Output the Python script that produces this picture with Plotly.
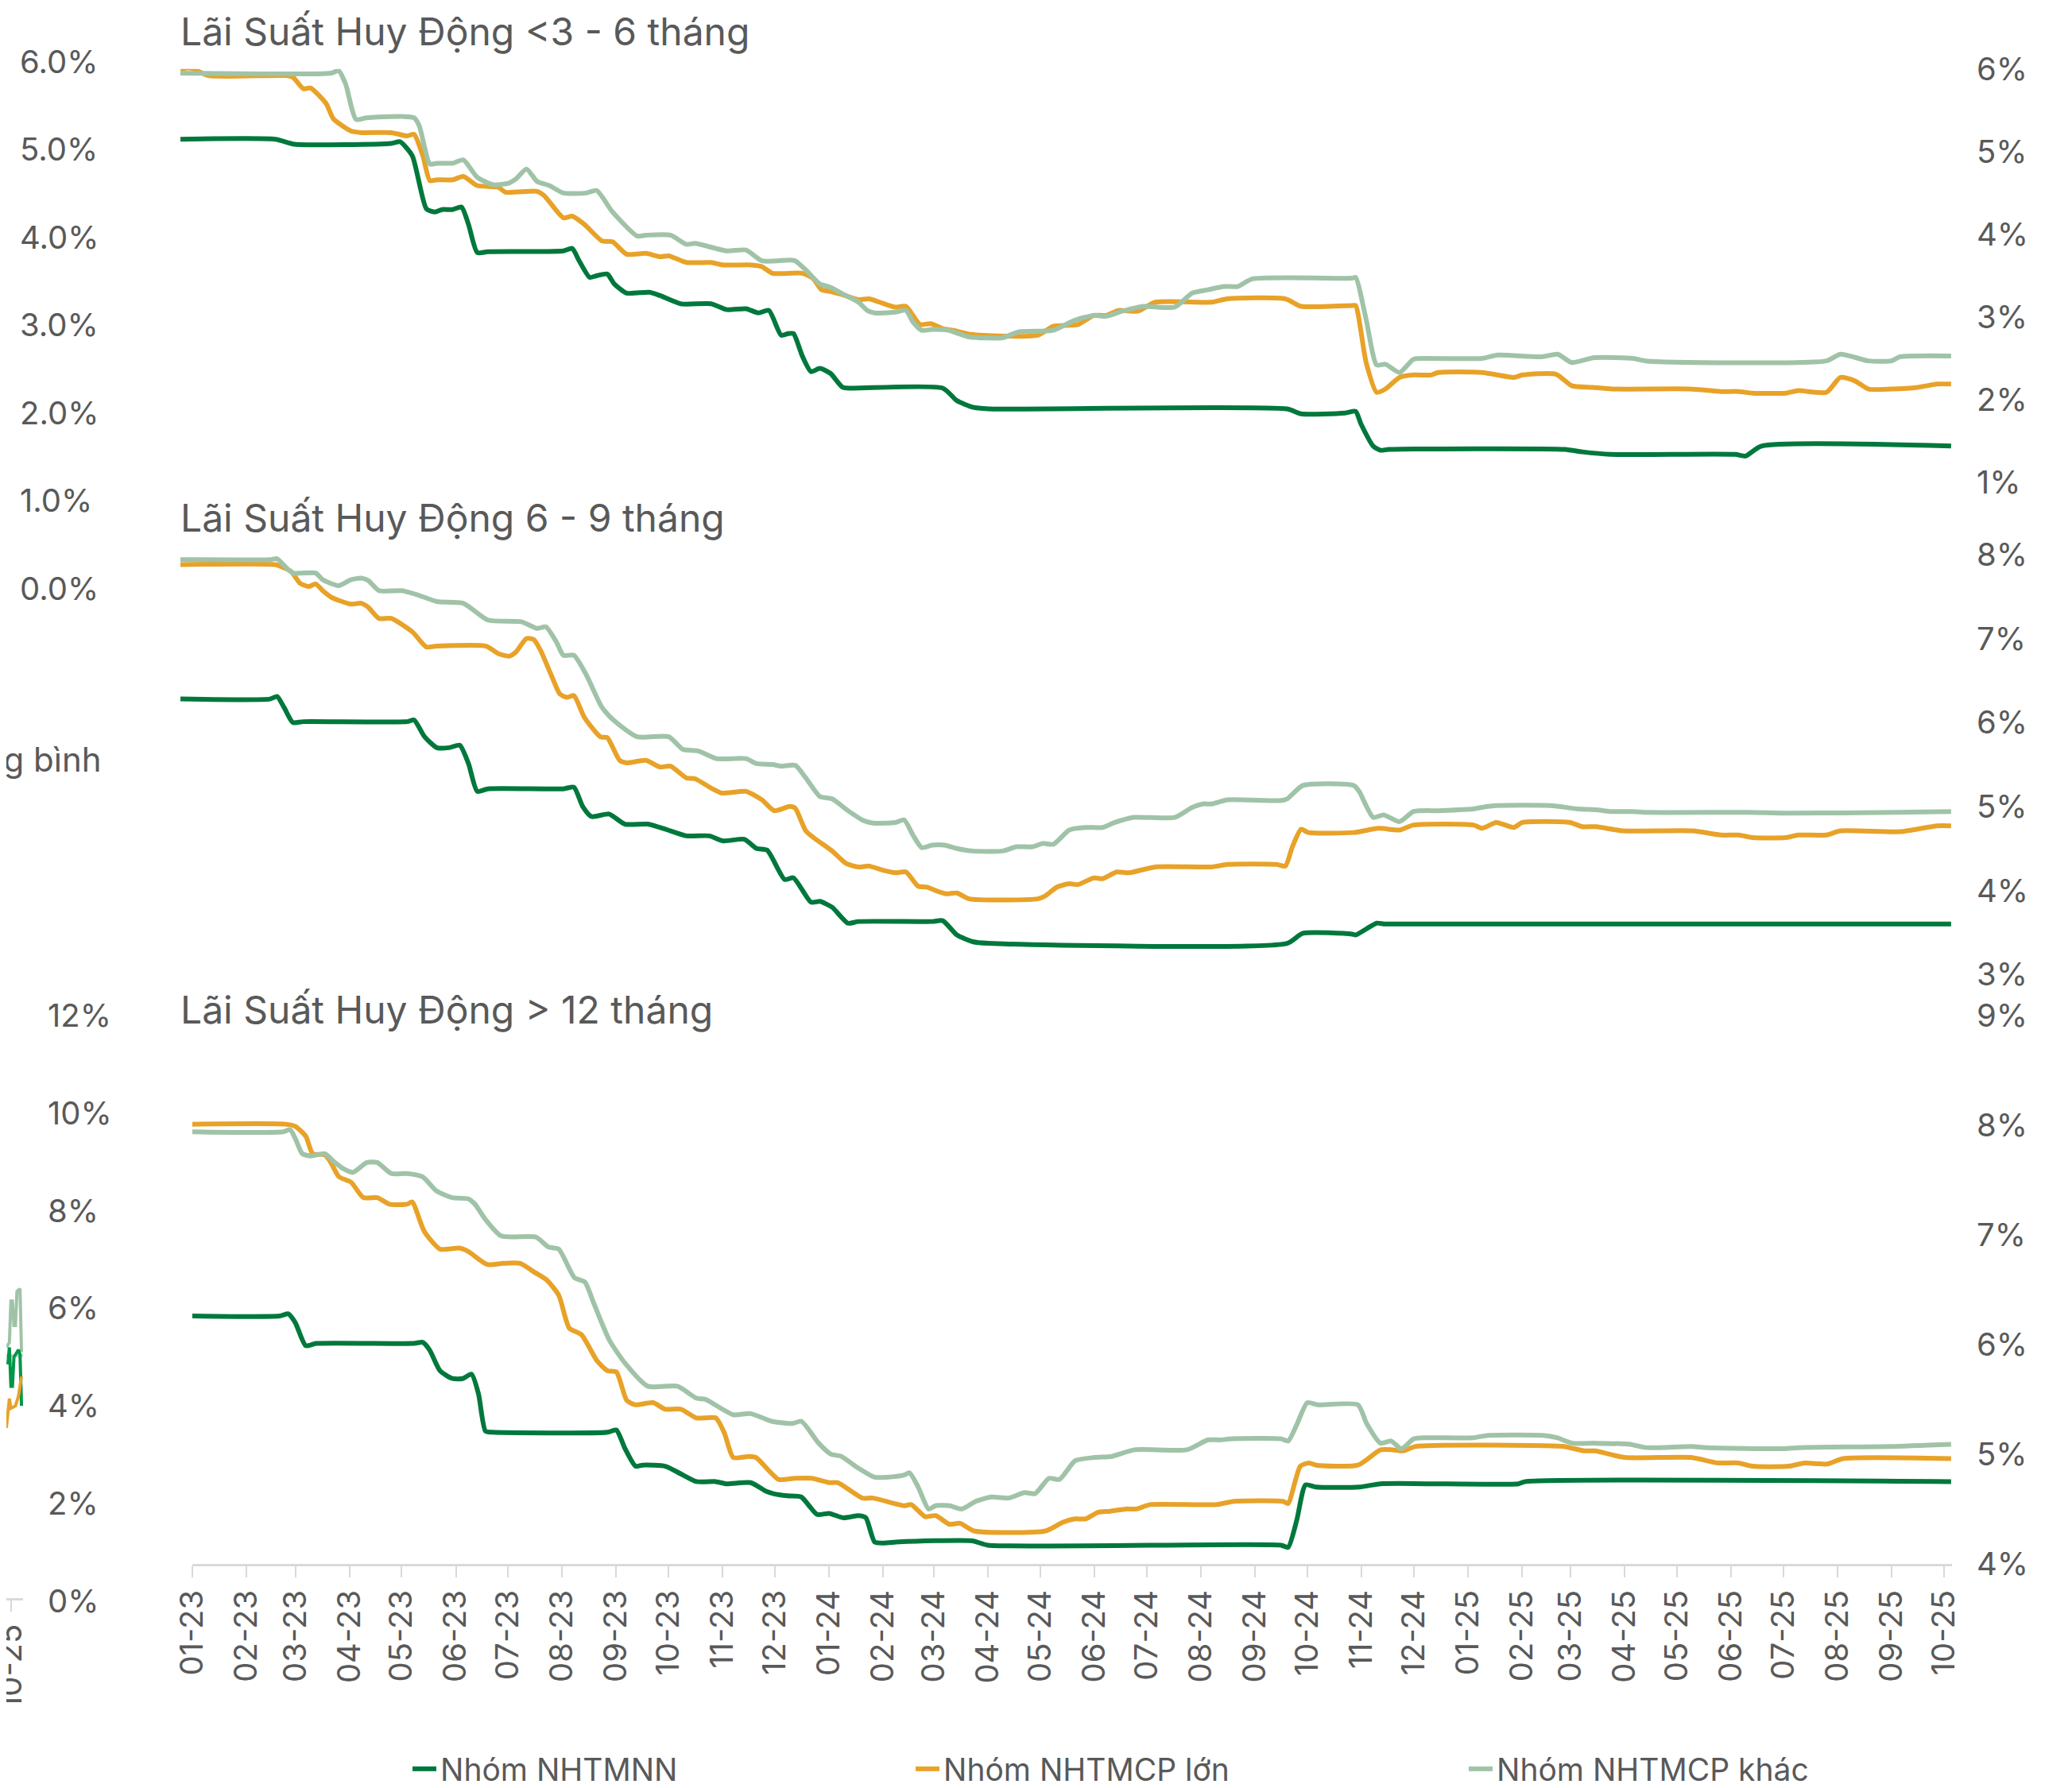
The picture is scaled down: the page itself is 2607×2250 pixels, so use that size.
import plotly.graph_objects as go

W, H = 2607, 2250

# ---------------- data (date, rate %) ----------------
# Panel 1: Lãi Suất Huy Động <3 - 6 tháng
p1_nhtmnn = [("2023-01-01",5.15),("2023-02-24",5.15),("2023-03-07",5.09),("2023-05-01",5.10),("2023-05-06",5.12),("2023-05-13",4.95),("2023-05-21",4.31),("2023-05-26",4.27),("2023-05-30",4.30),("2023-06-05",4.30),("2023-06-10",4.33),("2023-06-14",4.12),("2023-06-19",3.78),("2023-06-25",3.79),("2023-08-07",3.80),("2023-08-12",3.83),("2023-08-16",3.68),("2023-08-22",3.48),("2023-08-26",3.50),("2023-09-01",3.52),("2023-09-05",3.40),("2023-09-12",3.29),("2023-09-25",3.30),("2023-10-01",3.26),("2023-10-13",3.16),("2023-10-30",3.16),("2023-11-08",3.09),("2023-11-19",3.10),("2023-11-26",3.05),("2023-12-02",3.08),("2023-12-09",2.78),("2023-12-13",2.80),("2023-12-16",2.80),("2023-12-21",2.53),("2023-12-26",2.34),("2023-12-31",2.38),("2024-01-06",2.32),("2024-01-13",2.15),("2024-01-18",2.14),("2024-03-10",2.14),("2024-03-18",1.99),("2024-03-27",1.91),("2024-04-05",1.89),("2024-09-22",1.89),("2024-09-30",1.83),("2024-10-25",1.84),("2024-10-31",1.86),("2024-11-03",1.71),("2024-11-10",1.44),("2024-11-14",1.39),("2024-11-19",1.40),("2025-02-27",1.40),("2025-03-09",1.37),("2025-03-25",1.34),("2025-06-04",1.34),("2025-06-10",1.32),("2025-06-19",1.44),("2025-10-05",1.44)]
p1_lon = [("2023-01-01",6.00),("2023-01-07",6.01),("2023-01-17",5.92),("2023-03-02",5.92),("2023-03-06",5.90),("2023-03-12",5.76),("2023-03-16",5.77),("2023-03-25",5.58),("2023-03-29",5.40),("2023-04-08",5.25),("2023-04-14",5.23),("2023-05-01",5.23),("2023-05-10",5.19),("2023-05-14",5.21),("2023-05-19",4.95),("2023-05-23",4.65),("2023-05-27",4.66),("2023-06-05",4.66),("2023-06-11",4.70),("2023-06-19",4.59),("2023-07-01",4.57),("2023-07-05",4.51),("2023-07-23",4.52),("2023-07-27",4.47),("2023-08-07",4.20),("2023-08-12",4.22),("2023-08-19",4.12),("2023-08-29",3.92),("2023-09-04",3.91),("2023-09-12",3.76),("2023-09-23",3.77),("2023-10-01",3.73),("2023-10-06",3.74),("2023-10-16",3.66),("2023-10-30",3.66),("2023-11-06",3.63),("2023-11-22",3.63),("2023-11-28",3.61),("2023-12-04",3.53),("2023-12-21",3.53),("2023-12-27",3.47),("2024-01-01",3.33),("2024-01-06",3.31),("2024-01-13",3.27),("2024-01-22",3.21),("2024-01-28",3.22),("2024-02-03",3.18),("2024-02-12",3.12),("2024-02-18",3.13),("2024-02-26",2.91),("2024-03-03",2.92),("2024-03-10",2.86),("2024-03-16",2.84),("2024-03-26",2.79),("2024-05-03",2.78),("2024-05-12",2.89),("2024-05-26",2.91),("2024-06-04",3.02),("2024-06-11",3.02),("2024-06-18",3.08),("2024-06-29",3.07),("2024-07-09",3.18),("2024-08-10",3.18),("2024-08-19",3.22),("2024-09-21",3.22),("2024-09-30",3.13),("2024-10-29",3.14),("2024-10-31",3.14),("2024-11-06",2.45),("2024-11-12",2.09),("2024-11-17",2.13),("2024-11-25",2.27),("2024-12-03",2.30),("2024-12-13",2.30),("2024-12-17",2.33),("2025-01-11",2.33),("2025-01-29",2.27),("2025-02-03",2.30),("2025-02-22",2.31),("2025-03-03",2.17),("2025-03-15",2.15),("2025-03-26",2.13),("2025-05-09",2.13),("2025-05-27",2.10),("2025-06-06",2.10),("2025-06-14",2.08),("2025-07-03",2.08),("2025-07-10",2.11),("2025-07-26",2.09),("2025-08-03",2.27),("2025-08-11",2.23),("2025-08-19",2.13),("2025-09-01",2.13),("2025-09-16",2.15),("2025-09-27",2.19),("2025-10-05",2.19)]
p1_khac = [("2023-01-01",5.95),("2023-03-28",5.95),("2023-04-01",5.98),("2023-04-05",5.82),("2023-04-11",5.39),("2023-04-17",5.41),("2023-05-14",5.41),("2023-05-17",5.31),("2023-05-23",4.85),("2023-05-27",4.86),("2023-06-05",4.86),("2023-06-11",4.90),("2023-06-19",4.69),("2023-06-28",4.60),("2023-07-07",4.62),("2023-07-11",4.67),("2023-07-17",4.79),("2023-07-23",4.64),("2023-07-30",4.59),("2023-08-07",4.50),("2023-08-20",4.50),("2023-08-26",4.53),("2023-09-04",4.27),("2023-09-18",3.98),("2023-09-23",3.99),("2023-10-07",3.99),("2023-10-16",3.88),("2023-10-21",3.89),("2023-11-08",3.80),("2023-11-19",3.81),("2023-11-28",3.68),("2023-12-14",3.69),("2023-12-17",3.68),("2023-12-23",3.57),("2023-12-31",3.40),("2024-01-06",3.36),("2024-01-13",3.28),("2024-01-22",3.18),("2024-01-27",3.08),("2024-01-31",3.05),("2024-02-12",3.06),("2024-02-18",3.08),("2024-02-22",2.94),("2024-02-27",2.84),("2024-03-04",2.85),("2024-03-13",2.84),("2024-03-25",2.76),("2024-04-13",2.75),("2024-04-22",2.82),("2024-05-05",2.83),("2024-05-12",2.84),("2024-05-24",2.96),("2024-06-04",3.02),("2024-06-11",3.01),("2024-06-20",3.07),("2024-07-02",3.13),("2024-07-20",3.12),("2024-07-30",3.29),("2024-08-08",3.33),("2024-08-17",3.37),("2024-08-25",3.37),("2024-09-02",3.46),("2024-10-29",3.47),("2024-10-31",3.48),("2024-11-06",2.97),("2024-11-12",2.42),("2024-11-17",2.43),("2024-11-25",2.33),("2024-12-03",2.49),("2024-12-10",2.50),("2025-01-11",2.50),("2025-01-20",2.54),("2025-02-14",2.52),("2025-02-23",2.55),("2025-03-03",2.45),("2025-03-16",2.51),("2025-04-07",2.50),("2025-04-14",2.47),("2025-07-26",2.47),("2025-08-03",2.55),("2025-08-19",2.47),("2025-09-01",2.47),("2025-09-06",2.52),("2025-10-05",2.53)]

# Panel 2: Lãi Suất Huy Động 6 - 9 tháng
p2_nhtmnn = [("2023-01-01",6.28),("2023-02-21",6.28),("2023-02-25",6.31),("2023-03-01",6.18),("2023-03-06",6.00),("2023-03-12",6.01),("2023-05-10",6.01),("2023-05-14",6.03),("2023-05-20",5.83),("2023-05-27",5.70),("2023-06-03",5.70),("2023-06-09",5.73),("2023-06-14",5.51),("2023-06-19",5.18),("2023-06-25",5.21),("2023-08-07",5.21),("2023-08-13",5.23),("2023-08-18",5.00),("2023-08-23",4.88),("2023-09-02",4.91),("2023-09-11",4.79),("2023-09-24",4.79),("2023-10-04",4.73),("2023-10-16",4.65),("2023-10-29",4.65),("2023-11-06",4.59),("2023-11-18",4.61),("2023-11-25",4.50),("2023-12-01",4.48),("2023-12-11",4.13),("2023-12-16",4.15),("2023-12-26",3.86),("2023-12-31",3.87),("2024-01-07",3.80),("2024-01-16",3.61),("2024-01-22",3.63),("2024-03-04",3.63),("2024-03-10",3.64),("2024-03-18",3.47),("2024-03-27",3.39),("2024-04-05",3.37),("2024-09-22",3.37),("2024-10-01",3.49),("2024-10-29",3.48),("2024-10-31",3.47),("2024-11-12",3.61),("2024-11-17",3.60),("2025-10-05",3.60)]
p2_lon = [("2023-01-01",7.88),("2023-02-24",7.88),("2023-02-28",7.85),("2023-03-05",7.80),("2023-03-10",7.66),("2023-03-15",7.62),("2023-03-19",7.65),("2023-03-23",7.57),("2023-03-28",7.49),("2023-04-08",7.41),("2023-04-14",7.42),("2023-04-18",7.37),("2023-04-24",7.24),("2023-05-01",7.24),("2023-05-13",7.08),("2023-05-21",6.90),("2023-05-27",6.91),("2023-06-24",6.91),("2023-07-01",6.82),("2023-07-07",6.79),("2023-07-11",6.84),("2023-07-17",7.00),("2023-07-21",6.99),("2023-07-25",6.86),("2023-07-31",6.57),("2023-08-05",6.34),("2023-08-09",6.30),("2023-08-13",6.32),("2023-08-19",6.06),("2023-08-28",5.83),("2023-09-01",5.82),("2023-09-08",5.55),("2023-09-12",5.52),("2023-09-23",5.55),("2023-10-01",5.47),("2023-10-07",5.48),("2023-10-16",5.34),("2023-10-21",5.33),("2023-10-30",5.22),("2023-11-05",5.16),("2023-11-19",5.18),("2023-11-28",5.08),("2023-12-05",4.95),("2023-12-14",5.00),("2023-12-17",4.98),("2023-12-23",4.71),("2023-12-28",4.62),("2024-01-07",4.47),("2024-01-15",4.32),("2024-01-22",4.28),("2024-01-28",4.29),("2024-02-05",4.24),("2024-02-12",4.21),("2024-02-18",4.22),("2024-02-25",4.05),("2024-03-01",4.04),("2024-03-07",3.99),("2024-03-12",3.96),("2024-03-18",3.97),("2024-03-25",3.90),("2024-05-03",3.90),("2024-05-07",3.93),("2024-05-14",4.04),("2024-05-21",4.08),("2024-05-26",4.07),("2024-06-04",4.15),("2024-06-09",4.14),("2024-06-17",4.22),("2024-06-24",4.21),("2024-07-09",4.28),("2024-08-10",4.28),("2024-08-19",4.31),("2024-09-16",4.31),("2024-09-21",4.29),("2024-09-25",4.52),("2024-09-30",4.73),("2024-10-04",4.69),("2024-10-30",4.69),("2024-11-13",4.74),("2024-11-25",4.72),("2024-12-03",4.78),("2025-01-06",4.78),("2025-01-11",4.74),("2025-01-19",4.81),("2025-01-29",4.75),("2025-02-03",4.81),("2025-03-02",4.81),("2025-03-09",4.76),("2025-03-17",4.76),("2025-04-01",4.71),("2025-05-11",4.71),("2025-05-27",4.66),("2025-06-06",4.66),("2025-06-14",4.63),("2025-07-03",4.63),("2025-07-10",4.66),("2025-07-26",4.66),("2025-08-03",4.71),("2025-09-06",4.70),("2025-09-27",4.77),("2025-10-05",4.77)]
p2_khac = [("2023-01-01",7.94),("2023-02-21",7.94),("2023-02-25",7.95),("2023-03-01",7.87),("2023-03-06",7.78),("2023-03-19",7.78),("2023-03-23",7.70),("2023-04-01",7.63),("2023-04-08",7.70),("2023-04-14",7.72),("2023-04-18",7.69),("2023-04-24",7.57),("2023-05-07",7.57),("2023-05-16",7.52),("2023-05-27",7.44),("2023-06-11",7.42),("2023-06-25",7.22),("2023-07-14",7.20),("2023-07-23",7.12),("2023-07-28",7.14),("2023-08-03",6.96),("2023-08-07",6.80),("2023-08-13",6.80),("2023-08-20",6.57),("2023-08-29",6.18),("2023-09-05",6.02),("2023-09-18",5.83),("2023-10-06",5.83),("2023-10-14",5.68),("2023-10-23",5.66),("2023-11-02",5.57),("2023-11-19",5.57),("2023-11-25",5.51),("2023-12-04",5.50),("2023-12-09",5.48),("2023-12-17",5.49),("2023-12-23",5.34),("2023-12-31",5.12),("2024-01-07",5.09),("2024-01-16",4.95),("2024-01-25",4.83),("2024-01-31",4.80),("2024-02-12",4.81),("2024-02-17",4.84),("2024-02-22",4.66),("2024-02-27",4.51),("2024-03-04",4.54),("2024-03-11",4.54),("2024-03-18",4.50),("2024-03-27",4.47),("2024-04-13",4.47),("2024-04-21",4.52),("2024-04-30",4.52),("2024-05-06",4.56),("2024-05-12",4.55),("2024-05-21",4.72),("2024-05-30",4.75),("2024-06-09",4.75),("2024-06-16",4.81),("2024-06-27",4.87),("2024-07-20",4.87),("2024-07-30",4.99),("2024-08-05",5.03),("2024-08-10",5.03),("2024-08-19",5.08),("2024-09-18",5.07),("2024-09-22",5.09),("2024-10-01",5.25),("2024-10-30",5.25),("2024-11-02",5.18),("2024-11-10",4.87),("2024-11-16",4.90),("2024-11-25",4.82),("2024-12-03",4.94),("2024-12-18",4.95),("2025-01-06",4.97),("2025-01-11",4.99),("2025-01-19",5.01),("2025-02-19",5.01),("2025-03-07",4.97),("2025-03-17",4.96),("2025-03-25",4.94),("2025-04-07",4.94),("2025-04-15",4.93),("2025-06-12",4.93),("2025-07-05",4.92),("2025-09-03",4.93),("2025-10-05",4.94)]

# Panel 3: Lãi Suất Huy Động > 12 tháng
p3_nhtmnn = [("2023-01-01",6.26),("2023-02-20",6.26),("2023-02-25",6.28),("2023-03-01",6.20),("2023-03-07",5.99),("2023-03-13",6.01),("2023-05-08",6.01),("2023-05-13",6.02),("2023-05-17",5.95),("2023-05-23",5.76),("2023-05-30",5.69),("2023-06-05",5.69),("2023-06-10",5.73),("2023-06-14",5.55),("2023-06-18",5.21),("2023-06-22",5.20),("2023-08-27",5.20),("2023-09-01",5.22),("2023-09-06",5.05),("2023-09-12",4.89),("2023-09-16",4.90),("2023-09-29",4.89),("2023-10-08",4.82),("2023-10-17",4.75),("2023-10-28",4.75),("2023-11-03",4.73),("2023-11-17",4.74),("2023-11-26",4.66),("2023-11-30",4.64),("2023-12-08",4.62),("2023-12-16",4.61),("2023-12-25",4.45),("2024-01-01",4.46),("2024-01-09",4.42),("2024-01-18",4.44),("2024-01-22",4.42),("2024-01-27",4.20),("2024-02-01",4.19),("2024-02-10",4.20),("2024-03-23",4.21),("2024-04-01",4.17),("2024-09-16",4.17),("2024-09-20",4.15),("2024-09-25",4.40),("2024-09-30",4.72),("2024-10-06",4.70),("2024-10-31",4.70),("2024-11-12",4.73),("2025-01-30",4.73),("2025-02-03",4.75),("2025-10-05",4.75)]
p3_lon = [("2023-01-01",8.01),("2023-02-23",8.01),("2023-03-01",7.99),("2023-03-07",7.90),("2023-03-11",7.74),("2023-03-18",7.73),("2023-03-21",7.67),("2023-03-26",7.53),("2023-04-02",7.48),("2023-04-09",7.34),("2023-04-17",7.34),("2023-04-24",7.28),("2023-05-04",7.28),("2023-05-07",7.30),("2023-05-14",7.03),("2023-05-23",6.87),("2023-06-03",6.88),("2023-06-08",6.85),("2023-06-19",6.73),("2023-06-28",6.74),("2023-07-08",6.74),("2023-07-16",6.66),("2023-07-23",6.59),("2023-07-30",6.45),("2023-08-05",6.15),("2023-08-12",6.09),("2023-08-21",5.85),("2023-08-27",5.76),("2023-09-01",5.75),("2023-09-07",5.49),("2023-09-12",5.45),("2023-09-22",5.47),("2023-09-29",5.41),("2023-10-08",5.41),("2023-10-17",5.33),("2023-10-28",5.33),("2023-11-02",5.19),("2023-11-07",4.97),("2023-11-16",4.98),("2023-11-20",4.97),("2023-12-03",4.77),("2023-12-12",4.78),("2023-12-22",4.78),("2024-01-01",4.74),("2024-01-06",4.74),("2024-01-20",4.60),("2024-01-26",4.60),("2024-02-13",4.53),("2024-02-17",4.54),("2024-02-25",4.43),("2024-03-02",4.44),("2024-03-10",4.36),("2024-03-16",4.37),("2024-03-24",4.30),("2024-05-04",4.30),("2024-05-14",4.38),("2024-05-21",4.41),("2024-05-27",4.41),("2024-06-03",4.47),("2024-06-10",4.48),("2024-06-19",4.50),("2024-06-25",4.50),("2024-07-03",4.54),("2024-08-10",4.54),("2024-08-20",4.57),("2024-09-17",4.57),("2024-09-20",4.55),("2024-09-27",4.89),("2024-10-02",4.92),("2024-10-06",4.90),("2024-10-30",4.90),("2024-11-12",5.04),("2024-11-19",5.04),("2024-11-25",5.03),("2024-12-02",5.07),("2025-02-25",5.07),("2025-03-03",5.05),("2025-03-09",5.03),("2025-03-15",5.03),("2025-04-01",4.97),("2025-05-09",4.97),("2025-05-24",4.92),("2025-06-05",4.92),("2025-06-13",4.89),("2025-07-04",4.89),("2025-07-13",4.92),("2025-07-26",4.91),("2025-08-04",4.96),("2025-10-05",4.96)]
p3_khac = [("2023-01-01",7.94),("2023-02-22",7.94),("2023-02-26",7.96),("2023-03-01",7.88),("2023-03-05",7.74),("2023-03-10",7.72),("2023-03-18",7.74),("2023-03-23",7.67),("2023-03-29",7.60),("2023-04-03",7.57),("2023-04-11",7.66),("2023-04-17",7.66),("2023-04-25",7.56),("2023-05-04",7.56),("2023-05-13",7.53),("2023-05-21",7.40),("2023-05-30",7.34),("2023-06-08",7.33),("2023-06-12",7.28),("2023-06-18",7.14),("2023-06-27",6.99),("2023-07-17",6.98),("2023-07-24",6.89),("2023-07-30",6.87),("2023-08-08",6.61),("2023-08-14",6.57),("2023-08-19",6.38),("2023-08-28",6.04),("2023-09-06",5.83),("2023-09-19",5.62),("2023-10-06",5.62),("2023-10-17",5.51),("2023-10-22",5.50),("2023-11-07",5.36),("2023-11-17",5.37),("2023-11-29",5.30),("2023-12-11",5.28),("2023-12-16",5.30),("2023-12-26",5.10),("2024-01-02",5.00),("2024-01-08",4.98),("2024-01-16",4.89),("2024-01-27",4.79),("2024-02-03",4.79),("2024-02-13",4.81),("2024-02-16",4.83),("2024-02-21",4.70),("2024-02-27",4.50),("2024-03-02",4.53),("2024-03-10",4.53),("2024-03-17",4.50),("2024-03-25",4.57),("2024-04-03",4.61),("2024-04-13",4.60),("2024-04-22",4.65),("2024-04-28",4.64),("2024-05-06",4.78),("2024-05-12",4.77),("2024-05-21",4.94),("2024-06-01",4.97),("2024-06-11",4.98),("2024-06-24",5.04),("2024-07-24",5.04),("2024-08-05",5.13),("2024-08-12",5.13),("2024-08-19",5.14),("2024-09-16",5.14),("2024-09-20",5.12),("2024-09-25",5.27),("2024-10-01",5.47),("2024-10-07",5.45),("2024-10-30",5.45),("2024-11-04",5.28),("2024-11-12",5.10),("2024-11-18",5.12),("2024-11-24",5.05),("2024-12-01",5.14),("2024-12-08",5.15),("2025-01-04",5.15),("2025-01-12",5.17),("2025-02-14",5.17),("2025-02-21",5.15),("2025-03-02",5.10),("2025-03-15",5.10),("2025-04-04",5.09),("2025-04-13",5.06),("2025-05-09",5.07),("2025-05-18",5.06),("2025-07-01",5.05),("2025-07-10",5.06),("2025-08-31",5.07),("2025-10-05",5.09)]

# Clipped edge of the neighbouring chart (far left)
edge_khac = [("2025-09-28",5.2),("2025-09-30",5.3),("2025-10-01",6.15),("2025-10-02",6.15),("2025-10-03",5.65),("2025-10-04",5.65),("2025-10-05",6.35),("2025-10-07",6.4),("2025-10-08",5.1)]
edge_tb = [("2025-09-28",5.03),("2025-10-09",5.03)]
edge_nhtmnn = [("2025-09-29",4.85),("2025-09-30",5.2),("2025-10-01",4.4),("2025-10-02",4.4),("2025-10-03",5.0),("2025-10-05",5.1),("2025-10-06",5.15),("2025-10-07",5.05),("2025-10-08",4.0)]
edge_lon = [("2025-09-28",3.55),("2025-09-30",4.15),("2025-10-01",3.95),("2025-10-04",4.0),("2025-10-06",4.2),("2025-10-08",4.6)]

series_names = ["Nhóm NHTMNN", "Nhóm NHTMCP lớn", "Nhóm NHTMCP khác"]
panel_titles = ["Lãi Suất Huy Động <3 - 6 tháng", "Lãi Suất Huy Động 6 - 9 tháng", "Lãi Suất Huy Động > 12 tháng"]

# ---------------- styling ----------------
GREEN, ORANGE, LIGHT = "#00783C", "#E8A228", "#A0C3A8"
TXT = "#595959"
FONT = "Inter, Noto Sans, sans-serif"
LW = 6

def fx(p):
    return p / W

def fy(p):
    return 1 - p / H

fig = go.Figure()

def add(data, color, xa, ya, name=None, legend=None, shape="spline", width=LW):
    xs = [d for d, _ in data]
    ys = [v for _, v in data]
    fig.add_trace(go.Scatter(
        x=xs, y=ys, mode="lines", name=name,
        line=dict(color=color, width=width, shape=shape, smoothing=0.6),
        xaxis=xa, yaxis=ya, hoverinfo="skip",
        showlegend=legend is not None, legend=legend or "legend"))

colors = [GREEN, ORANGE, LIGHT]
for d, c in zip([p1_nhtmnn, p1_lon, p1_khac], colors):
    add(d, c, "x2", "y")
for d, c in zip([p2_nhtmnn, p2_lon, p2_khac], colors):
    add(d, c, "x2", "y2")
for d, c, n, lg in zip([p3_nhtmnn, p3_lon, p3_khac], colors, series_names,
                       ["legend", "legend2", "legend3"]):
    add(d, c, "x", "y3", name=n, legend=lg)

add(edge_tb, "#C9D9CD", "x4", "y4", shape="linear", width=4)
add(edge_khac, LIGHT, "x4", "y4", shape="linear", width=4)
add(edge_nhtmnn, "#00964A", "x4", "y4", shape="linear", width=4)
add(edge_lon, ORANGE, "x4", "y4", shape="linear", width=4)

# dummy trace so the clipped neighbour axis (0.0% - 6.0%) is drawn
fig.add_trace(go.Scatter(x=[0.5], y=[None], xaxis="x5", yaxis="y5",
                         mode="lines", showlegend=False, hoverinfo="skip"))

tickfont = dict(family=FONT, size=40, color=TXT)
RSTAND = 30

common_y = dict(showgrid=False, zeroline=False, showline=False, ticks="",
                tickfont=tickfont, ticksuffix="%", automargin=False,
                side="right", fixedrange=True)

common_x = dict(type="date", tickformat="%m-%y", tickangle=-90,
                ticks="outside", ticklen=14, tickwidth=2, tickcolor="#D9D9D9",
                showline=True, linecolor="#D9D9D9", linewidth=3,
                showgrid=False, zeroline=False, tickfont=tickfont,
                automargin=False, ticklabelstandoff=0,
                ticklabeloverflow="allow")

fig.update_layout(
    width=W, height=H, autosize=False,
    margin=dict(l=0, r=0, t=0, b=0),
    paper_bgcolor="white", plot_bgcolor="rgba(0,0,0,0)",
    font=dict(family=FONT, color=TXT),
    xaxis=dict(domain=[fx(234), fx(2448)], anchor="y3",
               range=["2023-01-01", "2025-10-05 12:00"],
               tick0="2023-01-01", dtick="M1", **common_x),
    xaxis2=dict(domain=[fx(219), fx(2448)], anchor="y2", type="date",
                range=["2023-01-01", "2025-10-05 12:00"], visible=False),
    xaxis4=dict(domain=[0, fx(21)], anchor="free", position=fy(2010),
                range=["2025-09-28", "2025-10-09"],
                tickvals=["2025-10-01"], **common_x),
    xaxis5=dict(domain=[0, 0.0004], anchor="y5", range=[0, 1], visible=False),
    yaxis=dict(domain=[fy(601), fy(79)], range=[1, 6], dtick=1, anchor="x2",
               ticklabelstandoff=RSTAND, **common_y),
    yaxis2=dict(domain=[fy(1222), fy(692)], range=[3, 8], dtick=1, anchor="x2",
                ticklabelstandoff=RSTAND, **common_y),
    yaxis3=dict(domain=[fy(1966), fy(1274)], range=[4, 9], dtick=1, anchor="x",
                ticklabelstandoff=RSTAND, **common_y),
    yaxis4=dict(domain=[fy(2013), fy(1274)], range=[0, 12], dtick=2, anchor="x4",
                ticklabelstandoff=RSTAND, **common_y),
    yaxis5=dict(domain=[fy(735), fy(70)], range=[0, 6], dtick=1, anchor="x5",
                tickformat=".1f", ticklabelstandoff=15, **common_y),
    showlegend=True,
)

legend_common = dict(orientation="h", yanchor="middle", xanchor="left",
                     y=fy(2225), bgcolor="rgba(0,0,0,0)",
                     font=dict(family=FONT, size=39, color=TXT),
                     itemwidth=30, tracegroupgap=0)
fig.update_layout(
    legend=dict(x=fx(506), **legend_common),
    legend2=dict(x=fx(1139), **legend_common),
    legend3=dict(x=fx(1835), **legend_common),
)

ann = []
for t, ypx in zip(panel_titles, [32, 646, 1266]):
    ann.append(dict(text=t, x=fx(218), y=fy(ypx), xref="paper", yref="paper",
                    xanchor="left", yanchor="middle", showarrow=False,
                    borderpad=0,
                    font=dict(family=FONT, size=48, color=TXT)))
ann.append(dict(text="Lãi Suất Trung bình", x=fx(122), y=fy(950), xref="paper",
                yref="paper", xanchor="right", yanchor="middle", showarrow=False,
                font=dict(family=FONT, size=42, color=TXT)))
fig.update_layout(annotations=ann)

fig.write_html("out.html")
